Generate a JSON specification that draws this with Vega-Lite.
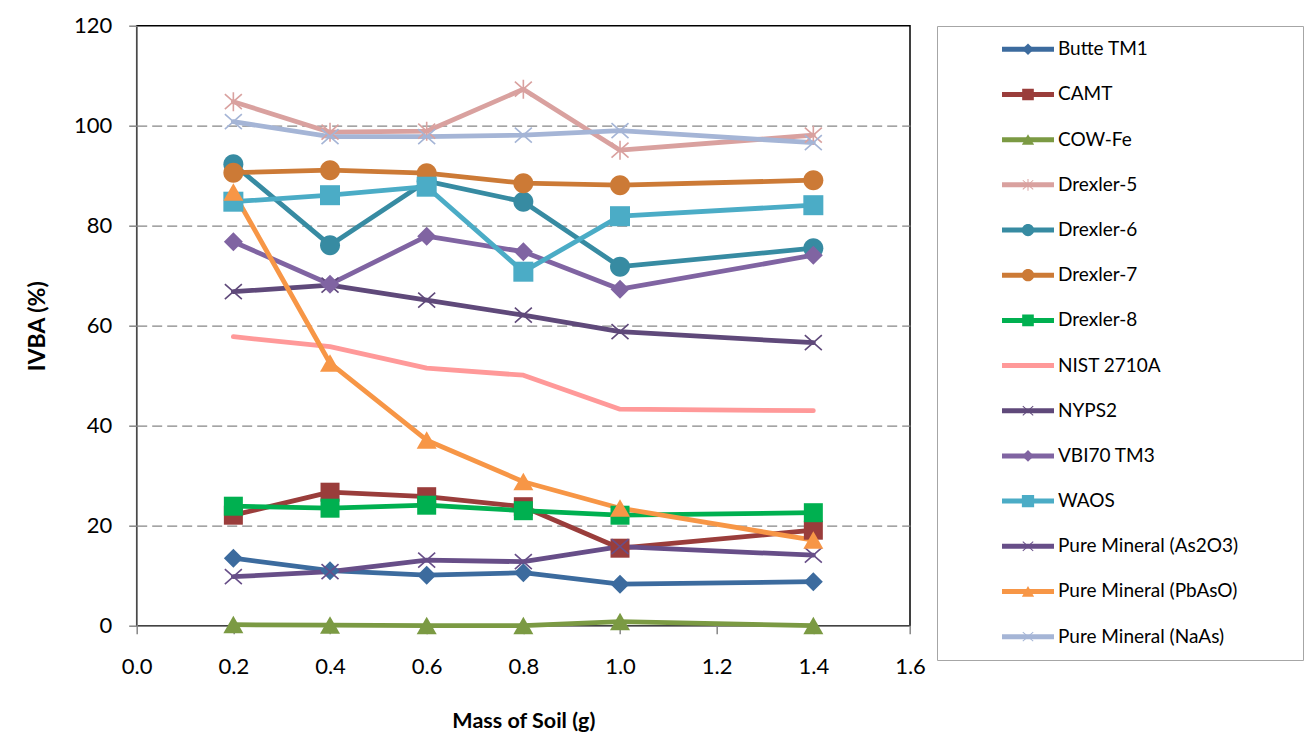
{
  "$schema": "https://vega.github.io/schema/vega-lite/v6.json",
  "autosize": {"type": "none"},
  "padding": {"left": 136.7, "top": 25.7, "right": 399, "bottom": 114.3},
  "width": 773.3,
  "height": 600,
  "background": "white",
  "config": {
    "view": {"stroke": "#000000", "strokeWidth": 1.5},
    "font": "Lato"
  },
  "data": {
    "values": [
      {"series": "Butte TM1", "mass": 0.2, "ivba": 13.5},
      {"series": "Butte TM1", "mass": 0.4, "ivba": 11.0},
      {"series": "Butte TM1", "mass": 0.6, "ivba": 10.1},
      {"series": "Butte TM1", "mass": 0.8, "ivba": 10.6},
      {"series": "Butte TM1", "mass": 1.0, "ivba": 8.3},
      {"series": "Butte TM1", "mass": 1.4, "ivba": 8.8},
      {"series": "CAMT", "mass": 0.2, "ivba": 22.1},
      {"series": "CAMT", "mass": 0.4, "ivba": 26.7},
      {"series": "CAMT", "mass": 0.6, "ivba": 25.8},
      {"series": "CAMT", "mass": 0.8, "ivba": 23.8},
      {"series": "CAMT", "mass": 1.0, "ivba": 15.5},
      {"series": "CAMT", "mass": 1.4, "ivba": 19.1},
      {"series": "COW-Fe", "mass": 0.2, "ivba": 0.2},
      {"series": "COW-Fe", "mass": 0.4, "ivba": 0.1},
      {"series": "COW-Fe", "mass": 0.6, "ivba": 0.0},
      {"series": "COW-Fe", "mass": 0.8, "ivba": 0.0},
      {"series": "COW-Fe", "mass": 1.0, "ivba": 0.8},
      {"series": "COW-Fe", "mass": 1.4, "ivba": 0.0},
      {"series": "Drexler-5", "mass": 0.2, "ivba": 104.8},
      {"series": "Drexler-5", "mass": 0.4, "ivba": 98.7},
      {"series": "Drexler-5", "mass": 0.6, "ivba": 98.9},
      {"series": "Drexler-5", "mass": 0.8, "ivba": 107.3},
      {"series": "Drexler-5", "mass": 1.0, "ivba": 95.1},
      {"series": "Drexler-5", "mass": 1.4, "ivba": 98.1},
      {"series": "Drexler-6", "mass": 0.2, "ivba": 92.3},
      {"series": "Drexler-6", "mass": 0.4, "ivba": 76.1},
      {"series": "Drexler-6", "mass": 0.6, "ivba": 88.9},
      {"series": "Drexler-6", "mass": 0.8, "ivba": 84.8},
      {"series": "Drexler-6", "mass": 1.0, "ivba": 71.8},
      {"series": "Drexler-6", "mass": 1.4, "ivba": 75.5},
      {"series": "Drexler-7", "mass": 0.2, "ivba": 90.6},
      {"series": "Drexler-7", "mass": 0.4, "ivba": 91.1},
      {"series": "Drexler-7", "mass": 0.6, "ivba": 90.5},
      {"series": "Drexler-7", "mass": 0.8, "ivba": 88.5},
      {"series": "Drexler-7", "mass": 1.0, "ivba": 88.1},
      {"series": "Drexler-7", "mass": 1.4, "ivba": 89.1},
      {"series": "Drexler-8", "mass": 0.2, "ivba": 23.9},
      {"series": "Drexler-8", "mass": 0.4, "ivba": 23.5},
      {"series": "Drexler-8", "mass": 0.6, "ivba": 24.1},
      {"series": "Drexler-8", "mass": 0.8, "ivba": 23.0},
      {"series": "Drexler-8", "mass": 1.0, "ivba": 22.1},
      {"series": "Drexler-8", "mass": 1.4, "ivba": 22.6},
      {"series": "NIST 2710A", "mass": 0.2, "ivba": 57.8},
      {"series": "NIST 2710A", "mass": 0.4, "ivba": 55.8},
      {"series": "NIST 2710A", "mass": 0.6, "ivba": 51.5},
      {"series": "NIST 2710A", "mass": 0.8, "ivba": 50.1},
      {"series": "NIST 2710A", "mass": 1.0, "ivba": 43.3},
      {"series": "NIST 2710A", "mass": 1.4, "ivba": 43.0},
      {"series": "NYPS2", "mass": 0.2, "ivba": 66.8},
      {"series": "NYPS2", "mass": 0.4, "ivba": 68.1},
      {"series": "NYPS2", "mass": 0.6, "ivba": 65.1},
      {"series": "NYPS2", "mass": 0.8, "ivba": 62.1},
      {"series": "NYPS2", "mass": 1.0, "ivba": 58.8},
      {"series": "NYPS2", "mass": 1.4, "ivba": 56.6},
      {"series": "VBI70 TM3", "mass": 0.2, "ivba": 76.8},
      {"series": "VBI70 TM3", "mass": 0.4, "ivba": 68.3},
      {"series": "VBI70 TM3", "mass": 0.6, "ivba": 77.9},
      {"series": "VBI70 TM3", "mass": 0.8, "ivba": 74.8},
      {"series": "VBI70 TM3", "mass": 1.0, "ivba": 67.3},
      {"series": "VBI70 TM3", "mass": 1.4, "ivba": 74.1},
      {"series": "WAOS", "mass": 0.2, "ivba": 84.8},
      {"series": "WAOS", "mass": 0.4, "ivba": 86.1},
      {"series": "WAOS", "mass": 0.6, "ivba": 87.8},
      {"series": "WAOS", "mass": 0.8, "ivba": 70.8},
      {"series": "WAOS", "mass": 1.0, "ivba": 81.9},
      {"series": "WAOS", "mass": 1.4, "ivba": 84.1},
      {"series": "Pure Mineral (As2O3)", "mass": 0.2, "ivba": 9.8},
      {"series": "Pure Mineral (As2O3)", "mass": 0.4, "ivba": 10.8},
      {"series": "Pure Mineral (As2O3)", "mass": 0.6, "ivba": 13.1},
      {"series": "Pure Mineral (As2O3)", "mass": 0.8, "ivba": 12.8},
      {"series": "Pure Mineral (As2O3)", "mass": 1.0, "ivba": 15.8},
      {"series": "Pure Mineral (As2O3)", "mass": 1.4, "ivba": 14.1},
      {"series": "Pure Mineral (PbAsO)", "mass": 0.2, "ivba": 86.7},
      {"series": "Pure Mineral (PbAsO)", "mass": 0.4, "ivba": 52.5},
      {"series": "Pure Mineral (PbAsO)", "mass": 0.6, "ivba": 37.1},
      {"series": "Pure Mineral (PbAsO)", "mass": 0.8, "ivba": 28.8},
      {"series": "Pure Mineral (PbAsO)", "mass": 1.0, "ivba": 23.5},
      {"series": "Pure Mineral (PbAsO)", "mass": 1.4, "ivba": 17.1},
      {"series": "Pure Mineral (NaAs)", "mass": 0.2, "ivba": 100.8},
      {"series": "Pure Mineral (NaAs)", "mass": 0.4, "ivba": 97.8},
      {"series": "Pure Mineral (NaAs)", "mass": 0.6, "ivba": 97.8},
      {"series": "Pure Mineral (NaAs)", "mass": 0.8, "ivba": 98.1},
      {"series": "Pure Mineral (NaAs)", "mass": 1.0, "ivba": 99.0},
      {"series": "Pure Mineral (NaAs)", "mass": 1.4, "ivba": 96.6}
    ]
  },
  "encoding": {
    "x": {
      "field": "mass", "type": "quantitative",
      "scale": {"domain": [0, 1.6], "nice": false, "zero": false},
      "axis": {
        "title": "Mass of Soil (g)",
        "values": [0, 0.2, 0.4, 0.6, 0.8, 1.0, 1.2, 1.4, 1.6],
        "format": ".1f",
        "grid": false,
        "domainColor": "#868686", "domainWidth": 1.5,
        "tickColor": "#868686", "tickWidth": 1.5, "tickSize": 8,
        "labelFont": "Lato", "labelFontSize": 22, "labelColor": "#000000",
        "labelPadding": 23, "labelFlush": false,
        "titleFont": "Lato", "titleFontSize": 21.5, "titleFontWeight": "bold", "titleColor": "#000000",
        "titlePadding": 33
      }
    },
    "y": {
      "field": "ivba", "type": "quantitative",
      "scale": {"domain": [0, 120], "nice": false},
      "axis": {
        "title": "IVBA (%)",
        "values": [0, 20, 40, 60, 80, 100, 120],
        "grid": true,
        "gridColor": "#868686", "gridWidth": 1.3, "gridDash": [10, 5],
        "gridOpacity": {"condition": {"test": "datum.value === 0 || datum.value === 120", "value": 0}, "value": 1},
        "domainColor": "#868686", "domainWidth": 1.5,
        "tickColor": "#868686", "tickWidth": 1.5, "tickSize": 8,
        "labelFont": "Lato", "labelFontSize": 22, "labelColor": "#000000",
        "labelPadding": 17,
        "titleFont": "Lato", "titleFontSize": 23, "titleFontWeight": "bold", "titleColor": "#000000",
        "titlePadding": 24
      }
    }
  },
  "layer": [
    {
      "mark": {"type": "line", "strokeWidth": 4.8, "strokeJoin": "round", "strokeCap": "round"},
      "encoding": {
        "stroke": {
          "field": "series", "type": "nominal",
          "sort": ["Butte TM1", "CAMT", "COW-Fe", "Drexler-5", "Drexler-6", "Drexler-7", "Drexler-8", "NIST 2710A", "NYPS2", "VBI70 TM3", "WAOS", "Pure Mineral (As2O3)", "Pure Mineral (PbAsO)", "Pure Mineral (NaAs)"],
          "scale": {
            "range": ["#3C6B9E", "#9A3D3B", "#7B9A43", "#D9A19F", "#378BA2", "#CC7A36", "#00B050", "#FF9999", "#5F497A", "#8064A2", "#4BACC6", "#674E88", "#F79646", "#A5B5D6"]
          },
          "legend": {
            "title": null,
            "orient": "none", "legendX": 849.5, "legendY": 0.3,
            "direction": "vertical",
            "padding": 13.3,
            "clipHeight": 20, "rowPadding": 25.18,
            "symbolType": "stroke", "symbolSize": 2704, "symbolStrokeWidth": 5,
            "labelFont": "Lato", "labelFontSize": 19, "labelColor": "#000000",
            "labelOffset": 1.5, "labelLimit": 400
          }
        }
      }
    },
    {
      "mark": {"type": "point", "filled": true, "opacity": 1, "size": 400, "strokeWidth": 0},
      "encoding": {
        "color": {
          "field": "series", "type": "nominal",
          "scale": {
            "domain": ["Butte TM1", "CAMT", "COW-Fe", "Drexler-5", "Drexler-6", "Drexler-7", "Drexler-8", "NIST 2710A", "NYPS2", "VBI70 TM3", "WAOS", "Pure Mineral (As2O3)", "Pure Mineral (PbAsO)", "Pure Mineral (NaAs)"],
            "range": ["#3C6B9E", "#9A3D3B", "#7B9A43", "#D9A19F", "#378BA2", "#CC7A36", "#00B050", "#FF9999", "#5F497A", "#8064A2", "#4BACC6", "#674E88", "#F79646", "#A5B5D6"]
          },
          "legend": {
            "title": " ", "titleOrient": "right", "titlePadding": 252, "titleFontSize": 10,
            "orient": "none", "legendX": 800.3, "legendY": 0.3,
            "direction": "vertical",
            "padding": 13.3, "strokeColor": "#A6A6A6",
            "clipHeight": 20, "rowPadding": 25.18,
            "symbolSize": 150, "symbolStrokeWidth": 0, "symbolOffset": 68.2,
            "labelFontSize": 19, "labelExpr": "''", "labelOffset": 0
          }
        },
        "shape": {
          "field": "series", "type": "nominal",
          "scale": {
            "domain": ["Butte TM1", "CAMT", "COW-Fe", "Drexler-5", "Drexler-6", "Drexler-7", "Drexler-8", "NIST 2710A", "NYPS2", "VBI70 TM3", "WAOS", "Pure Mineral (As2O3)", "Pure Mineral (PbAsO)", "Pure Mineral (NaAs)"],
            "range": [
            "M0,-0.95L0.95,0L0,0.95L-0.95,0Z",
            "M-0.95,-0.95L0.95,-0.95L0.95,0.95L-0.95,0.95Z",
            "M0,-0.9L1,0.85L-1,0.85Z",
            "M-0.903,-0.69L0.797,0.81L0.903,0.69L-0.797,-0.81ZM-0.797,0.81L0.903,-0.69L0.797,-0.81L-0.903,0.69ZM-0.08,-0.95L-0.08,0.95L0.08,0.95L0.08,-0.95Z",
            "M-1,0A1,1,0,1,1,1,0A1,1,0,1,1,-1,0Z",
            "M-1,0A1,1,0,1,1,1,0A1,1,0,1,1,-1,0Z",
            "M-0.95,-0.95L0.95,-0.95L0.95,0.95L-0.95,0.95Z",
            "M0,0",
            "M-0.903,-0.69L0.797,0.81L0.903,0.69L-0.797,-0.81ZM-0.797,0.81L0.903,-0.69L0.797,-0.81L-0.903,0.69Z",
            "M0,-0.95L0.95,0L0,0.95L-0.95,0Z",
            "M-1,-1L1,-1L1,1L-1,1Z",
            "M-0.903,-0.69L0.797,0.81L0.903,0.69L-0.797,-0.81ZM-0.797,0.81L0.903,-0.69L0.797,-0.81L-0.903,0.69Z",
            "M0,-0.9L1,0.85L-1,0.85Z",
            "M-0.903,-0.69L0.797,0.81L0.903,0.69L-0.797,-0.81ZM-0.797,0.81L0.903,-0.69L0.797,-0.81L-0.903,0.69Z"
          ]},
          "legend": {
            "title": " ", "titleOrient": "right", "titlePadding": 252, "titleFontSize": 10,
            "orient": "none", "legendX": 800.3, "legendY": 0.3,
            "direction": "vertical",
            "padding": 13.3, "strokeColor": "#A6A6A6",
            "clipHeight": 20, "rowPadding": 25.18,
            "symbolSize": 150, "symbolStrokeWidth": 0, "symbolOffset": 68.2,
            "labelFontSize": 19, "labelExpr": "''", "labelOffset": 0
          }
        }
      }
    }
  ]
}
